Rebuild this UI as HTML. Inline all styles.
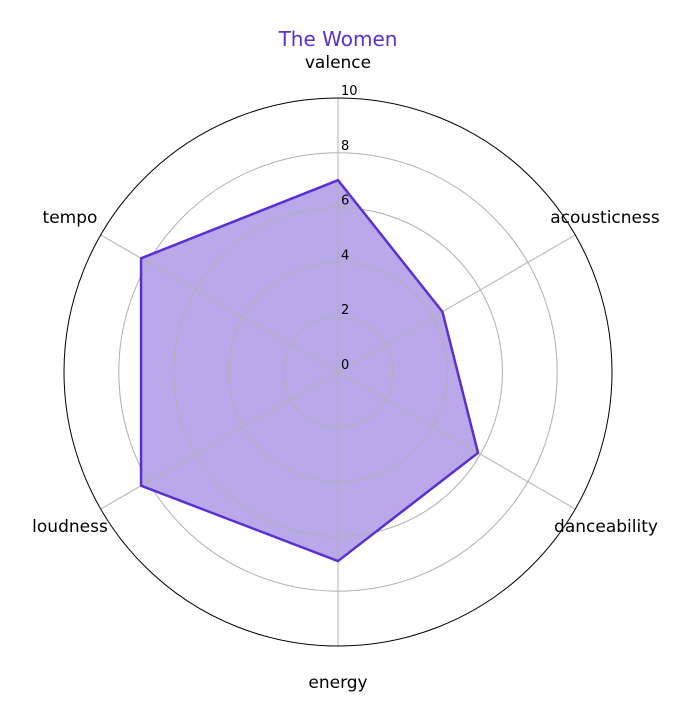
<!DOCTYPE html>
<html><head><meta charset="utf-8"><style>
html,body{margin:0;padding:0;background:#fff;}
svg text{font-family:"DejaVu Sans","Liberation Sans",sans-serif;}
</style></head><body>
<svg id="chart" width="693" height="721" xmlns="http://www.w3.org/2000/svg">
<text x="338" y="46" text-anchor="middle" font-size="20" fill="#5b30d0">The Women</text>
<g id="fill"></g><g id="grid"></g><g id="series"></g><g id="labels"></g>
</svg>
<script>
const categories = ["valence","acousticness","danceability","energy","loudness","tempo"];
const values = [7.0, 4.4, 5.9, 6.9, 8.3, 8.3];
const ticks = [0,2,4,6,8,10];
const cx=338, cy=372, R=274, maxV=10;
const ns="http://www.w3.org/2000/svg";
function rScale(v){return v/maxV*R;}
function ang(i){return -Math.PI/2 + i*2*Math.PI/categories.length;}
function pt(i,v){const a=ang(i);return [cx+rScale(v)*Math.cos(a), cy+rScale(v)*Math.sin(a)];}
function mk(tag,attrs,parent){const e=document.createElementNS(ns,tag);for(const k in attrs)e.setAttribute(k,attrs[k]);parent.appendChild(e);return e;}
const fillG=document.getElementById('fill'), grid=document.getElementById('grid'), series=document.getElementById('series'), labels=document.getElementById('labels');
const pts=values.map((v,i)=>pt(i,v).join(',')).join(' ');
const area=mk('polygon',{points:pts,fill:'#b9a9ea',stroke:'none'},fillG);


ticks.forEach(t=>{
  if(t>0 && t<maxV){
    const c=mk('circle',{cx:cx,cy:cy,r:rScale(t),fill:'none',stroke:'#b0b0b0','stroke-width':1},grid);
    
    
  }
});
categories.forEach((c,i)=>{
  const p=pt(i,maxV);
  const l=mk('line',{x1:cx,y1:cy,x2:p[0],y2:p[1],stroke:'#b0b0b0','stroke-width':1},grid);
  
  
});
const outer=mk('circle',{cx:cx,cy:cy,r:R,fill:'none',stroke:'#000','stroke-width':1},grid);


const poly=mk('polygon',{points:pts,fill:'none',stroke:'#5b30d0','stroke-width':2.5,'stroke-linejoin':'round'},series);


ticks.forEach(t=>{
  const y=cy-rScale(t);
  const tx=mk('text',{x:cx+3,y:y-3,'font-size':13,fill:'#000'},labels);
  tx.textContent=t;
  
  
});
const pos={valence:[338,68],acousticness:[605,223],danceability:[606,532],energy:[338,688],loudness:[70,532],tempo:[70,223]};
categories.forEach((c,i)=>{
  const p=pos[c];
  const tx=mk('text',{x:p[0],y:p[1],'text-anchor':'middle','font-size':17,fill:'#000'},labels);
  tx.textContent=c;
  
  
});
</script>
</body></html>
